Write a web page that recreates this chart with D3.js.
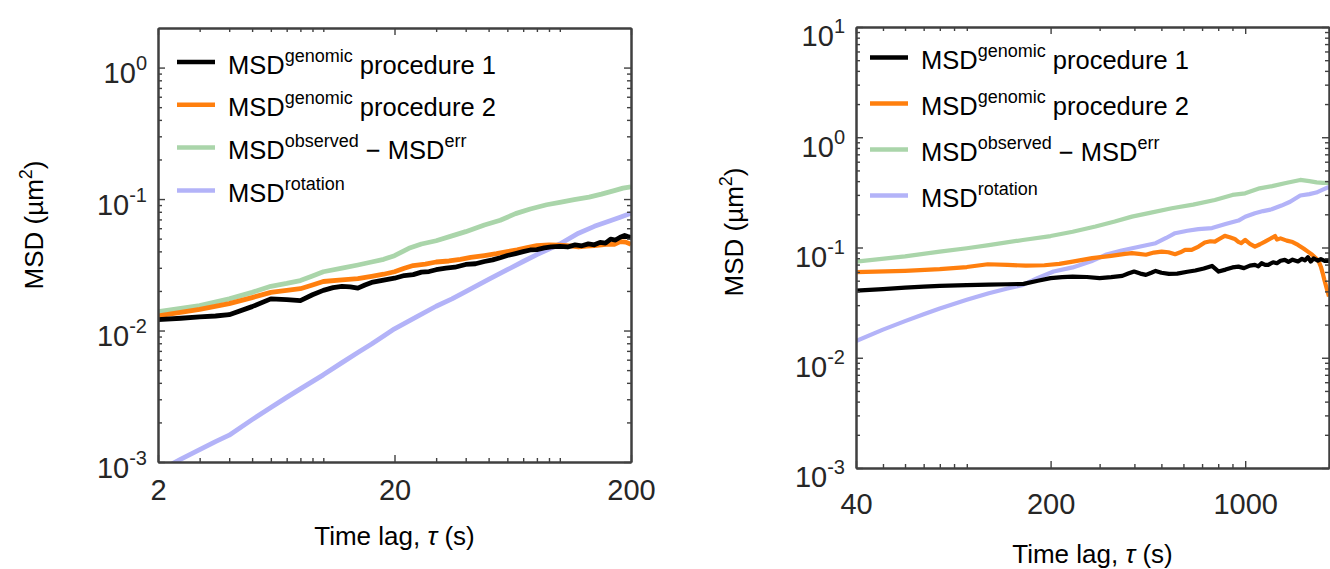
<!DOCTYPE html>
<html>
<head>
<meta charset="utf-8">
<script src="https://cdnjs.cloudflare.com/ajax/libs/d3/7.8.5/d3.min.js"></script>
<style>
body { margin: 0; background: #fff; }
svg { display: block; font-family: "Liberation Sans", Arial, Helvetica, sans-serif; }
.axis .domain { stroke: #404040; stroke-width: 2; }
.axis .tick line { stroke: #404040; stroke-width: 1.4; }
.axis .tick text { fill: #262626; }
</style>
</head>
<body>
<script>
// ---- left panel data (tau in s, MSD in um^2) ----
var leftGen1 = [[2,0.0121],[2.5,0.0124],[3,0.0127],[3.5,0.0129],[4,0.0132],[5,0.0152],[6,0.0174],[7,0.0172],[8,0.0169],[9,0.0187],[10,0.0202],[11,0.0212],[12,0.0217],[13,0.0215],[14,0.021],[15,0.0222],[16,0.0232],[18,0.0242],[20,0.025],[22,0.0262],[24,0.0266],[26,0.0278],[28,0.0281],[30,0.029],[33,0.0298],[36,0.0303],[40,0.0318],[44,0.0322],[48,0.0335],[52,0.0345],[56,0.0358],[60,0.0372],[65,0.0385],[70,0.0398],[75,0.041],[80,0.0412],[86,0.0425],[92,0.0432],[100,0.0437],[108,0.0432],[116,0.0448],[124,0.0441],[132,0.0456],[140,0.0449],[148,0.0468],[156,0.0462],[164,0.0495],[172,0.0488],[180,0.0512],[188,0.0528],[194,0.0518],[200,0.051]];
var leftGen2 = [[2,0.0129],[3,0.0145],[4,0.016],[5,0.0178],[6,0.0195],[7,0.0202],[8,0.0208],[9,0.0222],[10,0.0236],[12,0.0243],[14,0.0248],[16,0.0258],[18,0.0268],[20,0.028],[22,0.0298],[24,0.0312],[27,0.032],[30,0.0332],[34,0.0338],[38,0.0348],[42,0.036],[48,0.0372],[54,0.0384],[60,0.0398],[66,0.041],[72,0.0425],[80,0.0442],[90,0.0448],[100,0.0446],[110,0.044],[120,0.0432],[130,0.0438],[140,0.0442],[150,0.0448],[160,0.0455],[170,0.0452],[180,0.0475],[190,0.047],[200,0.0452]];
var leftObs = [[2,0.0139],[3,0.0155],[4,0.0174],[5,0.0195],[6,0.0217],[7,0.0228],[8,0.024],[9,0.026],[10,0.028],[12,0.0298],[14,0.0315],[16,0.0332],[18,0.0348],[20,0.0371],[23,0.0422],[26,0.0455],[30,0.0482],[35,0.0525],[40,0.0565],[48,0.0635],[56,0.069],[65,0.0775],[75,0.084],[88,0.0905],[100,0.0945],[115,0.099],[133,0.1035],[150,0.109],[170,0.116],[185,0.121],[200,0.124]];
var leftRot = [[2,0.00085],[2.5,0.00105],[3,0.00124],[3.5,0.00143],[4,0.0016],[5,0.0021],[6,0.0026],[7,0.0031],[8,0.0036],[10,0.0046],[12,0.0057],[14,0.0068],[16,0.0079],[18,0.0091],[20,0.0103],[25,0.0128],[30,0.0153],[35,0.0174],[40,0.0198],[50,0.0245],[60,0.029],[70,0.0335],[80,0.0378],[100,0.0455],[120,0.055],[140,0.062],[160,0.0675],[180,0.0728],[200,0.078]];

// ---- right panel data ----
var rightGen1 = [[40,0.0407],[50,0.042],[60,0.0432],[70,0.0442],[80,0.0449],[100,0.0455],[120,0.046],[140,0.0464],[160,0.0468],[180,0.05],[200,0.0527],[220,0.0538],[240,0.0545],[270,0.054],[300,0.0527],[330,0.0538],[362,0.0553],[380,0.058],[399,0.0605],[420,0.058],[440,0.0565],[460,0.059],[477,0.0613],[500,0.059],[532,0.0576],[570,0.058],[620,0.0603],[662,0.0618],[710,0.0645],[760,0.068],[803,0.0605],[850,0.063],[900,0.066],[946,0.0671],[990,0.065],[1040,0.0685],[1084,0.0695],[1115,0.0675],[1145,0.072],[1180,0.0695],[1210,0.0695],[1260,0.0735],[1300,0.072],[1340,0.0758],[1388,0.0772],[1430,0.074],[1480,0.0775],[1548,0.0747],[1600,0.079],[1640,0.0765],[1680,0.0817],[1720,0.0745],[1760,0.0795],[1824,0.076],[1870,0.0785],[1930,0.0755],[2000,0.0757]];
var rightGen2 = [[40,0.0597],[60,0.0615],[80,0.0636],[100,0.0665],[119,0.0705],[140,0.0695],[163,0.0685],[190,0.069],[215,0.071],[240,0.0745],[282,0.08],[330,0.084],[370,0.0875],[392,0.0888],[415,0.0875],[440,0.086],[470,0.09],[501,0.0918],[530,0.0905],[560,0.0869],[585,0.0905],[608,0.095],[642,0.095],[680,0.102],[716,0.111],[750,0.114],[778,0.113],[810,0.12],[845,0.1274],[880,0.124],[917,0.1197],[945,0.1125],[968,0.1094],[1000,0.117],[1040,0.108],[1084,0.102],[1130,0.107],[1178,0.113],[1230,0.12],[1280,0.127],[1300,0.118],[1340,0.121],[1410,0.1155],[1480,0.112],[1548,0.1056],[1620,0.098],[1680,0.0918],[1740,0.086],[1795,0.08],[1840,0.074],[1870,0.067],[1900,0.058],[1925,0.0508],[1960,0.043],[2000,0.0359]];
var rightObs = [[40,0.0745],[60,0.083],[80,0.0918],[100,0.0985],[120,0.105],[159,0.117],[200,0.127],[240,0.139],[290,0.155],[340,0.172],[392,0.1905],[450,0.205],[545,0.227],[650,0.245],[778,0.27],[900,0.3],[1000,0.31],[1127,0.344],[1250,0.36],[1400,0.385],[1577,0.41],[1700,0.4],[1806,0.39],[1900,0.385],[2000,0.385]];
var rightRot = [[40,0.0142],[50,0.018],[60,0.0215],[70,0.0248],[80,0.028],[100,0.0335],[120,0.0385],[140,0.0425],[159,0.0458],[180,0.053],[205,0.0605],[240,0.066],[280,0.075],[315,0.0857],[360,0.094],[420,0.102],[477,0.1094],[520,0.122],[560,0.1348],[620,0.142],[679,0.1466],[760,0.15],[850,0.163],[946,0.1754],[1000,0.19],[1084,0.2046],[1160,0.214],[1245,0.222],[1350,0.24],[1450,0.26],[1577,0.296],[1700,0.305],[1800,0.315],[1900,0.335],[2000,0.355]];

// ---- ticks ----
var leftXMajor = [2, 20, 200];
var leftXMinor = [3,4,5,6,7,8,9,10,30,40,50,60,70,80,90,100];
var leftYMajor = [1e-3, 1e-2, 1e-1, 1];
var rightXMajor = [40, 200, 1000];
var rightXMinor = [50,60,70,80,90,100,300,400,500,600,700,800,900,2000];
var rightYMajor = [1e-3, 1e-2, 1e-1, 1, 10];

// legend text: [text, isSuperscript]
var legendLabels = [
  [["MSD",0],["genomic",1],[" procedure 1",0]],
  [["MSD",0],["genomic",1],[" procedure 2",0]],
  [["MSD",0],["observed",1],[" \u2212 MSD",0],["err",1]],
  [["MSD",0],["rotation",1]]
];
var seriesColors = ["#000000", "#ff7f0e", "#aad5aa", "#b3b3f8"];

function yMinors(majors) {
  var out = [];
  majors.slice(0, -1).forEach(function(m) {
    for (var k = 2; k <= 9; k++) out.push(m * k);
  });
  return out;
}

var svg = d3.select("body").append("svg")
    .attr("width", 1330)
    .attr("height", 569);

function drawPanel(cfg) {
  var w = cfg.width, h = cfg.height;
  var g = svg.append("g").attr("transform", "translate(" + cfg.left + "," + cfg.top + ")");

  var x = d3.scaleLog().domain(cfg.xDomain).range([0, w]);
  var y = d3.scaleLog().domain(cfg.yDomain).range([h, 0]);

  var clipId = "clip" + cfg.left;
  g.append("clipPath").attr("id", clipId)
    .append("rect").attr("width", w).attr("height", h);

  // series (drawn back to front)
  var line = d3.line()
      .x(function(d) { return x(d[0]); })
      .y(function(d) { return y(d[1]); });
  var order = [2, 3, 1, 0];
  order.forEach(function(i) {
    g.append("path")
      .datum(cfg.series[i])
      .attr("clip-path", "url(#" + clipId + ")")
      .attr("fill", "none")
      .attr("stroke", seriesColors[i])
      .attr("stroke-width", cfg.lineWidth)
      .attr("stroke-linejoin", "round")
      .attr("d", line);
  });

  // axes - ticks pointing inward on all four sides
  var ymin = yMinors(cfg.yMajor);
  g.append("g").attr("class", "axis").attr("transform", "translate(0," + h + ")")
    .call(d3.axisBottom(x).tickValues(cfg.xMinor).tickSizeInner(-4).tickSizeOuter(0).tickFormat(""));
  g.append("g").attr("class", "axis")
    .call(d3.axisTop(x).tickValues(cfg.xMinor).tickSizeInner(-4).tickSizeOuter(0).tickFormat(""));
  g.append("g").attr("class", "axis")
    .call(d3.axisTop(x).tickValues(cfg.xMajor).tickSizeInner(-7).tickSizeOuter(0).tickFormat(""));
  g.append("g").attr("class", "axis")
    .call(d3.axisLeft(y).tickValues(ymin).tickSizeInner(-4).tickSizeOuter(0).tickFormat(""));
  g.append("g").attr("class", "axis").attr("transform", "translate(" + w + ",0)")
    .call(d3.axisRight(y).tickValues(ymin).tickSizeInner(-4).tickSizeOuter(0).tickFormat(""));
  g.append("g").attr("class", "axis").attr("transform", "translate(" + w + ",0)")
    .call(d3.axisRight(y).tickValues(cfg.yMajor).tickSizeInner(-7).tickSizeOuter(0).tickFormat(""));

  g.append("g").attr("class", "axis").attr("transform", "translate(0," + h + ")")
    .call(d3.axisBottom(x).tickValues(cfg.xMajor).tickSizeInner(-7).tickSizeOuter(0)
      .tickPadding(cfg.xPad).tickFormat(d3.format("d")))
    .selectAll(".tick text")
    .style("font-size", "29px");

  g.append("g").attr("class", "axis")
    .call(d3.axisLeft(y).tickValues(cfg.yMajor).tickSizeInner(-7).tickSizeOuter(0).tickPadding(11))
    .selectAll(".tick text")
    .attr("dy", cfg.yLabelDy)
    .style("font-size", "29px")
    .each(function(d) {
      var t = d3.select(this).text(null);
      t.append("tspan").text("10");
      t.append("tspan").attr("dy", -13).style("font-size", "20px")
        .text(String(Math.round(Math.log10(d))));
    });

  // axis titles
  var xt = g.append("text")
    .attr("x", w / 2)
    .attr("y", cfg.xTitleY)
    .attr("text-anchor", "middle")
    .style("font-size", "26px")
    .style("white-space", "pre");
  xt.append("tspan").text("Time lag, ");
  xt.append("tspan").style("font-style", "italic").text("\u03c4");
  xt.append("tspan").text(" (s)");

  var yt = g.append("text")
    .attr("transform", "translate(" + cfg.yTitleX + "," + cfg.yTitleY + ") rotate(-90)")
    .attr("text-anchor", "middle")
    .style("font-size", "26px")
    .style("white-space", "pre");
  yt.append("tspan").text("MSD (\u00b5m");
  yt.append("tspan").attr("dy", -11).style("font-size", "18px").text("2");
  yt.append("tspan").attr("dy", 11).text(")");

  // legend
  legendLabels.forEach(function(parts, i) {
    var by = cfg.legendY + i * cfg.legendStep;
    g.append("line")
      .attr("x1", cfg.legendX).attr("x2", cfg.legendX + 38)
      .attr("y1", by - 11.5).attr("y2", by - 11.5)
      .attr("stroke", seriesColors[i])
      .attr("stroke-width", 4.5);
    var t = g.append("text")
      .attr("x", cfg.legendX + 51)
      .attr("y", by)
      .style("font-size", "25.5px")
      .style("white-space", "pre");
    var raised = false;
    parts.forEach(function(p) {
      var s = t.append("tspan").text(p[0]);
      if (p[1] && !raised) { s.attr("dy", -12).style("font-size", "18px"); raised = true; }
      else if (!p[1] && raised) { s.attr("dy", 12); raised = false; }
    });
  });
}

drawPanel({
  left: 158, top: 28, width: 473, height: 434,
  xDomain: [2, 200], yDomain: [1e-3, 2],
  xMajor: leftXMajor, xMinor: leftXMinor, yMajor: leftYMajor,
  series: [leftGen1, leftGen2, leftObs, leftRot],
  lineWidth: 4.8, xPad: 17, yLabelDy: "0.52em",
  xTitleY: 517, yTitleX: -115, yTitleY: 197,
  legendX: 19, legendY: 45.5, legendStep: 42.8
});

drawPanel({
  left: 856, top: 27, width: 473, height: 441,
  xDomain: [40, 2000], yDomain: [1e-3, 10],
  xMajor: rightXMajor, xMinor: rightXMinor, yMajor: rightYMajor,
  series: [rightGen1, rightGen2, rightObs, rightRot],
  lineWidth: 4.2, xPad: 25, yLabelDy: "0.65em",
  xTitleY: 536, yTitleX: -113, yTitleY: 205,
  legendX: 14, legendY: 42, legendStep: 46
});
</script>
</body>
</html>
